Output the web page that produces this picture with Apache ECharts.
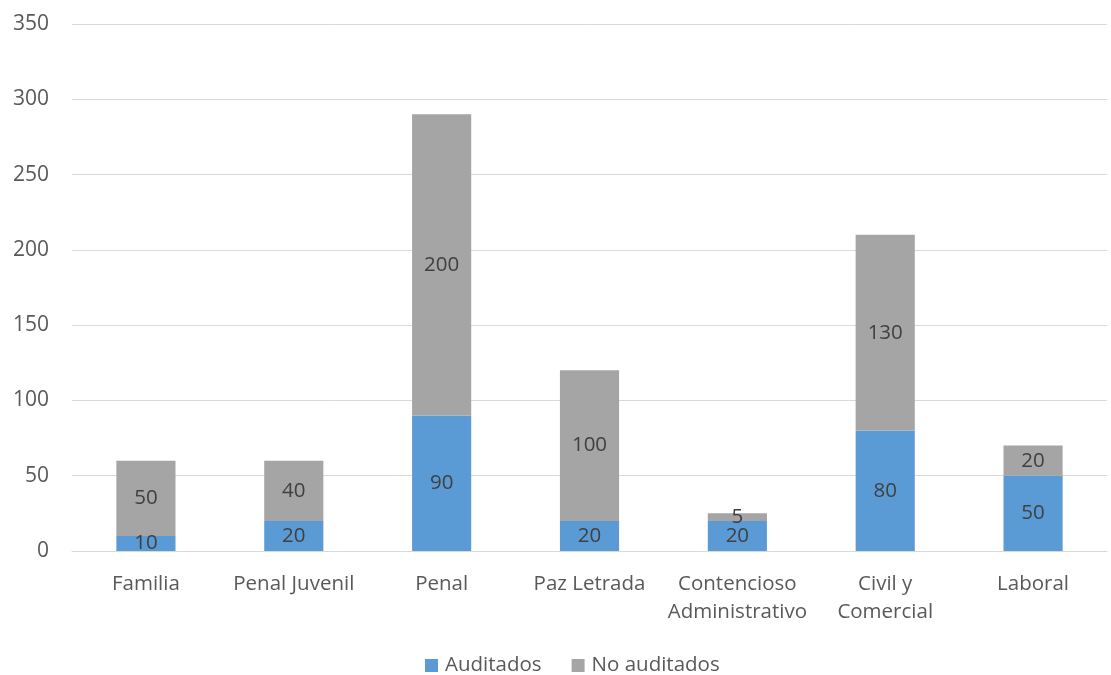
<!DOCTYPE html>
<html><head><meta charset="utf-8">
<script src="https://cdn.jsdelivr.net/npm/echarts@6/dist/echarts.min.js"></script>
<style>html,body{margin:0;padding:0;background:#fff}#c{width:1111px;height:675px}</style>
</head><body><div id="c"></div>
<script>
const categories = ['Familia', 'Penal Juvenil', 'Penal', 'Paz Letrada', 'Contencioso\nAdministrativo', 'Civil y\nComercial', 'Laboral'];
const auditados = [10, 20, 90, 20, 20, 80, 50];
const noAuditados = [50, 40, 200, 100, 5, 130, 20];
const yTicks = { min: 0, max: 350, interval: 50 };

const chart = echarts.init(document.getElementById('c'), null, { renderer: 'canvas' });
const font = '"Open Sans", "Noto Sans", sans-serif';
const lbl = { show: true, position: 'inside', color: '#404040', fontSize: 20.5, fontFamily: font };
chart.setOption({
  animation: false,
  textStyle: { fontFamily: font },
  grid: { left: 72, right: 4, top: 24, bottom: 124, containLabel: false },
  legend: {
    top: 650, left: 420, itemWidth: 13, itemHeight: 13, itemGap: 30,
    icon: 'rect',
    textStyle: { color: '#595959', fontSize: 20.5, fontFamily: font, padding: [0, 0, 0, 2] },
    data: ['Auditados', 'No auditados']
  },
  xAxis: {
    type: 'category', data: categories,
    axisLine: { show: true, lineStyle: { color: '#d9d9d9', width: 1 } },
    axisTick: { show: false },
    axisLabel: { color: '#595959', fontSize: 20.5, fontFamily: font, margin: 19, lineHeight: 28, interval: 0 }
  },
  yAxis: {
    type: 'value', min: yTicks.min, max: yTicks.max, interval: yTicks.interval,
    axisLine: { show: false }, axisTick: { show: false },
    splitLine: { lineStyle: { color: '#d9d9d9', width: 1 } },
    axisLabel: { color: '#595959', fontSize: 21, fontFamily: font, margin: 23 }
  },
  series: [
    { name: 'Auditados', type: 'bar', stack: 't', data: auditados, barWidth: '40%',
      itemStyle: { color: '#5B9BD5' }, label: lbl },
    { name: 'No auditados', type: 'bar', stack: 't', data: noAuditados, barWidth: '40%',
      itemStyle: { color: '#A5A5A5' }, label: lbl }
  ]
});
</script></body></html>
